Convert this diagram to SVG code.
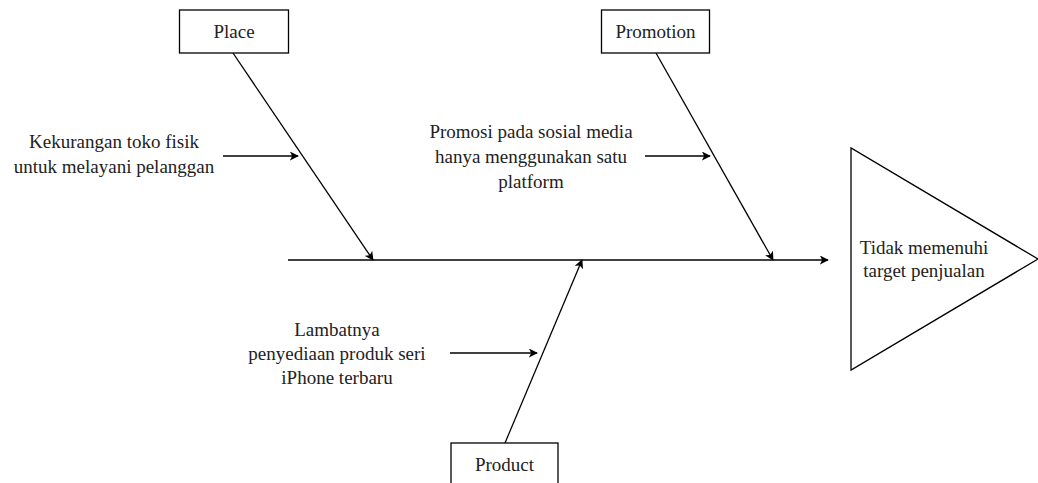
<svg xmlns="http://www.w3.org/2000/svg" width="1038" height="483" viewBox="0 0 1038 483">
<style>
.box{fill:#fff;stroke:#000;stroke-width:1.3}
.ln{stroke:#000;stroke-width:1.3;fill:none}
.t{font-family:'Liberation Serif','Times New Roman',serif;font-size:19px;fill:#222;text-anchor:middle}
</style>
<defs>
<marker id="ah" viewBox="0 0 10 10" refX="9" refY="5" markerWidth="9" markerHeight="9" markerUnits="userSpaceOnUse" orient="auto">
<path d="M0,0 L10,5 L0,10 L2.5,5 Z" fill="#000"/>
</marker>
</defs>
<rect width="1038" height="483" fill="#fff"/>
<g id="connectors">
<line class="ln" x1="288" y1="260" x2="828" y2="260" marker-end="url(#ah)"/>
<line class="ln" x1="233" y1="53" x2="373" y2="260" marker-end="url(#ah)"/>
<line class="ln" x1="656" y1="53" x2="773" y2="260" marker-end="url(#ah)"/>
<line class="ln" x1="505" y1="443" x2="582" y2="260" marker-end="url(#ah)"/>
<line class="ln" x1="223" y1="156" x2="298" y2="156" marker-end="url(#ah)"/>
<line class="ln" x1="645" y1="156" x2="710" y2="156" marker-end="url(#ah)"/>
<line class="ln" x1="450" y1="353" x2="537" y2="353" marker-end="url(#ah)"/>
</g>
<g id="place">
<rect class="box" x="179.5" y="10" width="109" height="43"/>
<text class="t" x="234" y="38">Place</text>
</g>
<g id="promotion">
<rect class="box" x="601.5" y="10" width="108" height="43"/>
<text class="t" x="655.5" y="38">Promotion</text>
</g>
<g id="product">
<rect class="box" x="451" y="443" width="107" height="45"/>
<text class="t" x="504.5" y="471">Product</text>
</g>
<g id="effect">
<polygon class="box" points="851,148 851,370 1038,259"/>
<text class="t" x="924" y="254">Tidak memenuhi</text>
<text class="t" x="924" y="277">target penjualan</text>
</g>
<g id="cause-place">
<text class="t" x="114" y="148">Kekurangan toko fisik</text>
<text class="t" x="114" y="173">untuk melayani pelanggan</text>
</g>
<g id="cause-promotion">
<text class="t" x="531" y="138">Promosi pada sosial media</text>
<text class="t" x="531" y="163">hanya menggunakan satu</text>
<text class="t" x="531" y="188">platform</text>
</g>
<g id="cause-product">
<text class="t" x="337" y="336">Lambatnya</text>
<text class="t" x="337" y="360">penyediaan produk seri</text>
<text class="t" x="337" y="384">iPhone terbaru</text>
</g>
</svg>
